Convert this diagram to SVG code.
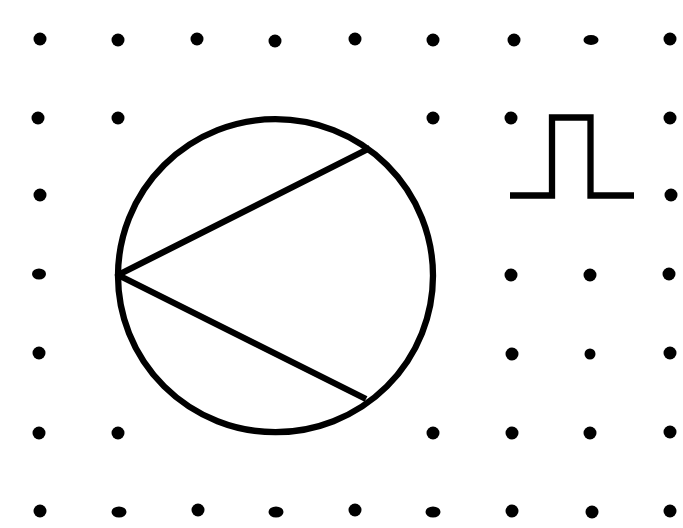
<svg xmlns="http://www.w3.org/2000/svg" width="683" height="528" viewBox="0 0 683 528">
<style>
.d{fill:#000}
.l{fill:none;stroke:#000;stroke-width:6.3;stroke-linejoin:miter}
.c{stroke-linejoin:round}
</style>
<rect width="683" height="528" fill="#fff"/>
<g id="dots">
<circle class="d" cx="40" cy="39" r="6.5"/><circle class="d" cx="118" cy="40" r="6.5"/><circle class="d" cx="197" cy="39" r="6.5"/><circle class="d" cx="275" cy="41" r="6.5"/><circle class="d" cx="355" cy="39" r="6.5"/><circle class="d" cx="433" cy="40" r="6.5"/><circle class="d" cx="514" cy="40" r="6.5"/><ellipse class="d" cx="591" cy="40" rx="7.5" ry="5"/><circle class="d" cx="670" cy="39" r="6.5"/>
<circle class="d" cx="38" cy="118" r="6.5"/><circle class="d" cx="118" cy="118" r="6.5"/><circle class="d" cx="433" cy="118" r="6.5"/><circle class="d" cx="511" cy="118" r="6.5"/><circle class="d" cx="670" cy="118" r="6.5"/>
<circle class="d" cx="40" cy="195" r="6.5"/><circle class="d" cx="671" cy="195" r="6.5"/>
<ellipse class="d" cx="39" cy="274" rx="7" ry="5.5"/><circle class="d" cx="511" cy="275" r="6.5"/><circle class="d" cx="590" cy="275" r="6.5"/><circle class="d" cx="669" cy="274" r="6.5"/>
<circle class="d" cx="39" cy="353" r="6.5"/><circle class="d" cx="512" cy="354" r="6.5"/><circle class="d" cx="590" cy="354" r="5.5"/><circle class="d" cx="670" cy="353" r="6.5"/>
<circle class="d" cx="39" cy="433" r="6.5"/><circle class="d" cx="118" cy="433" r="6.5"/><circle class="d" cx="433" cy="433" r="6.5"/><circle class="d" cx="512" cy="433" r="6.5"/><circle class="d" cx="590" cy="433" r="6.5"/><circle class="d" cx="670" cy="432" r="6.5"/>
<circle class="d" cx="40" cy="511" r="6.5"/><ellipse class="d" cx="119" cy="512" rx="7.5" ry="5.5"/><circle class="d" cx="198" cy="510" r="6.5"/><ellipse class="d" cx="276" cy="512" rx="7.5" ry="5.5"/><circle class="d" cx="355" cy="510" r="6.5"/><ellipse class="d" cx="433" cy="512" rx="7.5" ry="5.5"/><circle class="d" cx="512" cy="511" r="6.5"/><circle class="d" cx="592" cy="512" r="6.5"/><circle class="d" cx="670" cy="511" r="6.5"/>
</g>
<g id="circle-symbol">
<ellipse class="l" cx="275.5" cy="275.7" rx="157.5" ry="156.5"/>
<path class="l c" d="M370 148L118 275L366 399"/>
</g>
<g id="pulse-symbol">
<path class="l" d="M510 195.5H552V117.5H590.5V195.5H634"/>
</g>
</svg>
